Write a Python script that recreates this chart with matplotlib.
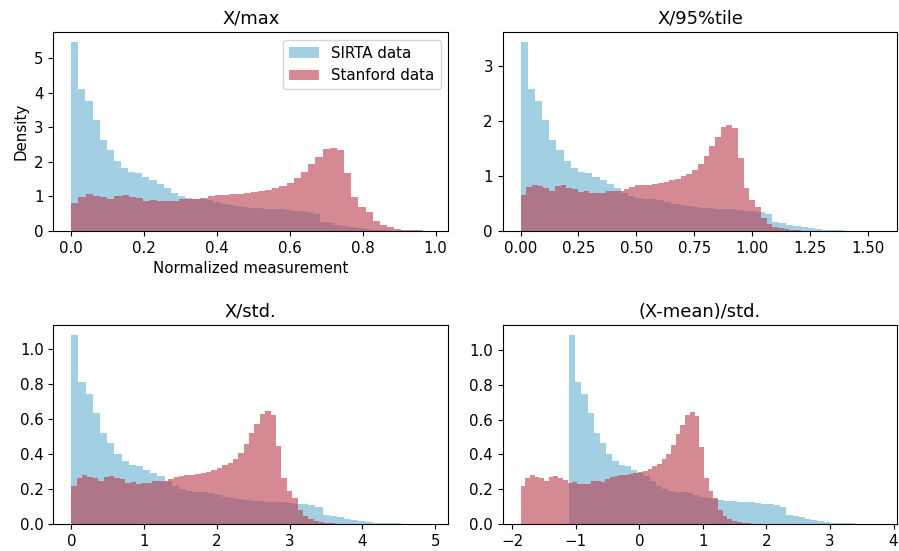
import numpy as np
import matplotlib
matplotlib.use("Agg")
import matplotlib.pyplot as plt
from matplotlib.ticker import MaxNLocator

# relative bin frequencies (50 bins)
sirta_freq = [5.49, 4.11, 3.77, 3.22, 2.65, 2.36, 2.02, 1.82, 1.72, 1.69,
              1.57, 1.49, 1.38, 1.26, 1.11, 1.02, 0.97, 0.94, 0.92, 0.89,
              0.83, 0.78, 0.76, 0.73, 0.70, 0.68, 0.67, 0.65, 0.64, 0.63,
              0.61, 0.59, 0.57, 0.54, 0.50, 0.27, 0.24, 0.19, 0.15, 0.11,
              0.08, 0.06, 0.04, 0.03, 0.02, 0.015, 0.01, 0.005, 0.005, 0.003]
stanford_freq = [0.78, 0.95, 1.01, 0.97, 0.94, 0.88, 0.97, 0.99, 0.94, 0.91,
                 0.84, 0.86, 0.82, 0.83, 0.83, 0.88, 0.88, 0.87, 0.92, 0.96,
                 0.99, 1.00, 1.01, 1.03, 1.05, 1.07, 1.10, 1.14, 1.20, 1.24,
                 1.33, 1.45, 1.63, 1.85, 2.04, 2.25, 2.30, 2.23, 1.59, 0.94,
                 0.67, 0.53, 0.29, 0.165, 0.10, 0.06, 0.04, 0.03, 0.02, 0.01]

titles = ['X/max', 'X/95%tile', 'X/std.', '(X-mean)/std.']
# data range of each normalized series in each panel
sirta_lo = [0.0, 0.0, 0.0, -1.11]
sirta_hi = [0.975, 1.55, 4.93, 3.78]
stanford_lo = [0.0, 0.0, 0.0, -1.87]
stanford_hi = [0.985, 1.235, 3.70, 1.83]

blue = '#a3cfe3'
red = '#b83a4b'

fig, axes = plt.subplots(2, 2, figsize=(8.99, 5.51), dpi=100)
fig.subplots_adjust(left=0.0593, right=0.9983, bottom=0.049, top=0.9414,
                    wspace=0.138, hspace=0.473)

for i, ax in enumerate(axes.flat):
    e1 = np.linspace(sirta_lo[i], sirta_hi[i], len(sirta_freq) + 1)
    e2 = np.linspace(stanford_lo[i], stanford_hi[i], len(stanford_freq) + 1)
    ax.hist((e1[:-1] + e1[1:]) / 2, bins=e1, weights=sirta_freq,
            density=True, color=blue, label='SIRTA data')
    ax.hist((e2[:-1] + e2[1:]) / 2, bins=e2, weights=stanford_freq,
            density=True, color=red, alpha=0.6, label='Stanford data')
    ax.set_title(titles[i], fontsize=12.9)
    ax.xaxis.set_major_locator(MaxNLocator(nbins=8, steps=[1, 2, 2.5, 5, 10]))
    ax.tick_params(labelsize=10.8)

axes[0, 0].set_xlabel('Normalized measurement', fontsize=10.8)
axes[0, 0].set_ylabel('Density', fontsize=10.8)
axes[0, 0].legend(loc='upper right', fontsize=10.8)

plt.savefig('out.png', dpi=100)
